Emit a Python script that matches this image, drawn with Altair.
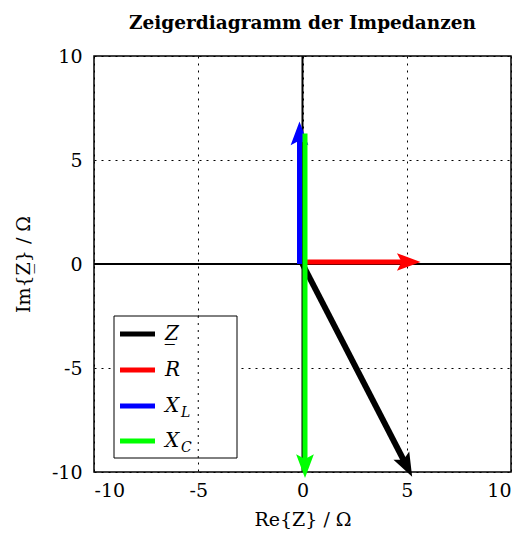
import math
import altair as alt
import pandas as pd

# ---- data ----
R = 5.0
XL = 6.28
XC = -16.0
names = ["Z", "R", "X_L", "X_C"]
colors = ["#000000", "#ff0000", "#0000ff", "#00ff00"]
x_start = [0.0, 0.0, 0.0, 0.0]
y_start = [0.0, 0.0, 0.0, XL]
x_end = [R, R, 0.0, 0.0]
y_end = [XL + XC, 0.0, XL, XL + XC]
ticks = [-10, -5, 0, 5, 10]
legend_main = ["Z\u0332", "R", "X", "X"]
legend_sub = ["", "", "L", "C"]

vec = pd.DataFrame({"name": names, "x0": x_start, "y0": y_start,
                    "x1": x_end, "y1": y_end, "color": colors})
vec["angle"] = [math.degrees(math.atan2(a - b, c - d)) % 360
                for a, b, c, d in zip(vec.x1, vec.x0, vec.y1, vec.y0)]

FONT = "DejaVu Serif"
W, H = 417, 416

xs = alt.Scale(domain=[-10, 10], nice=False, zero=False)
ys = alt.Scale(domain=[-10, 10], nice=False, zero=False)

base = alt.Chart(vec)

axes_layer = alt.Chart(pd.DataFrame({"v": [0]})).mark_point(opacity=0).encode(
    x=alt.X("v:Q", scale=xs, title="Re{Z\u0332} / \u03a9",
            axis=alt.Axis(values=ticks, grid=True, labelExpr="datum.value")),
    y=alt.Y("v:Q", scale=ys, title="Im{Z\u0332} / \u03a9",
            axis=alt.Axis(values=ticks, grid=True, labelExpr="datum.value")),
)

zero_x = alt.Chart(pd.DataFrame({"v": [0]})).mark_rule(color="black", strokeWidth=2).encode(
    x=alt.X("v:Q", scale=xs))
zero_y = alt.Chart(pd.DataFrame({"v": [0]})).mark_rule(color="black", strokeWidth=2).encode(
    y=alt.Y("v:Q", scale=ys))

offsets = {"Z": (0, 0), "R": (2, -2), "X_L": (-3, 0), "X_C": (2.5, 0)}
widths = {"Z": 6, "R": 5, "X_L": 5, "X_C": 5}
arrow_path = "M0,-1 L0.75,1 L0,0.6 L-0.75,1 Z"

layers = [axes_layer, zero_x, zero_y]
for i, n in enumerate(names):
    dx, dy = offsets[n]
    sub = base.transform_filter(alt.datum.name == n)
    line = sub.mark_rule(color=colors[i], strokeWidth=widths[n], strokeCap="butt",
                         xOffset=dx, x2Offset=dx, yOffset=dy, y2Offset=dy).encode(
        x=alt.X("x0:Q", scale=xs), y=alt.Y("y0:Q", scale=ys),
        x2="x1:Q", y2="y1:Q")
    head = sub.mark_point(shape=arrow_path, filled=True, opacity=1, color=colors[i],
                          size=560, angle=float(vec.angle[i]), strokeWidth=0,
                          xOffset=dx, yOffset=dy).encode(
        x=alt.X("x1:Q", scale=xs), y=alt.Y("y1:Q", scale=ys))
    layers += [line, head]

box_l, box_r, box_t, box_b = 20, 143, 260, 402
legend_layers = [
    alt.Chart(pd.DataFrame({"v": [0]})).mark_rect(fill="white", stroke="black", strokeWidth=1).encode(
        x=alt.value(box_l), x2=alt.value(box_r), y=alt.value(box_t), y2=alt.value(box_b)),
    alt.Chart(pd.DataFrame({"v": [0]})).mark_rule(color="black", strokeDash=[2, 5], strokeWidth=1).encode(
        x=alt.X("v:Q", scale=xs), y=alt.value(box_t), y2=alt.value(box_b)).transform_calculate(v="-5"),
]
row_y = [278, 314, 350, 385]
for i in range(len(names)):
    d = pd.DataFrame({"v": [0]})
    legend_layers.append(alt.Chart(d).mark_rule(color=colors[i], strokeWidth=5, strokeCap="butt").encode(
        x=alt.value(26), x2=alt.value(61), y=alt.value(row_y[i])))
    legend_layers.append(alt.Chart(d).mark_text(font=FONT, fontStyle="italic", fontSize=20,
                                                align="left", baseline="middle", color="black").encode(
        x=alt.value(71), y=alt.value(row_y[i]), text=alt.value(legend_main[i])))
    if legend_sub[i]:
        legend_layers.append(alt.Chart(d).mark_text(font=FONT, fontStyle="italic", fontSize=14,
                                                    align="left", baseline="middle", color="black").encode(
            x=alt.value(87), y=alt.value(row_y[i] + 7), text=alt.value(legend_sub[i])))

chart = alt.layer(*(layers + legend_layers)).properties(
    width=W, height=H,
    padding={"left": 6, "top": 5, "right": 2, "bottom": 0},
    title=alt.TitleParams("Zeigerdiagramm der Impedanzen", font=FONT, fontSize=18.5,
                          fontWeight="bold", anchor="middle", offset=15, color="black"),
).configure_view(stroke="black", strokeWidth=1.5).configure_axis(
    labelFont=FONT, labelFontSize=19, labelColor="black",
    titleFont=FONT, titleFontSize=19, titleColor="black", titleFontWeight="normal",
    domain=False, ticks=False,
    gridColor="black", gridDash=[2, 5], gridOpacity=1, gridWidth=1,
).configure_axisX(titlePadding=10, labelPadding=9).configure_axisY(titlePadding=18, labelPadding=12)

chart.save("out.html", embed_options={"renderer": "svg", "actions": False})
